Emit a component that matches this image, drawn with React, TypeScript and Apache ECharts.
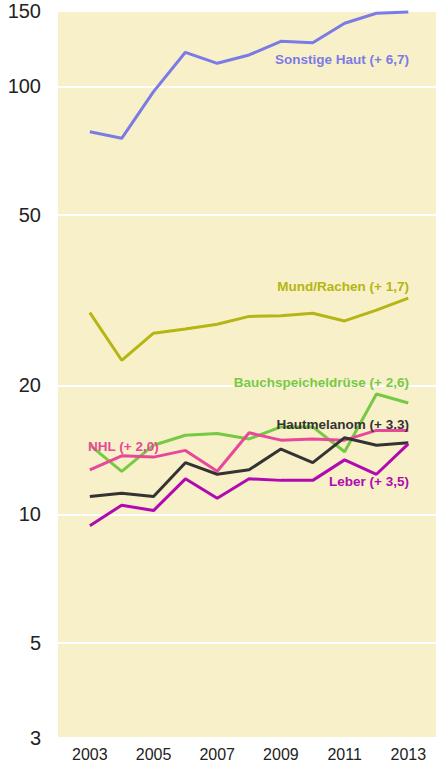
import React, { useEffect, useRef } from "react";
import * as echarts from "echarts";

const years = [2003, 2004, 2005, 2006, 2007, 2008, 2009, 2010, 2011, 2012, 2013];
const xTickYears = [2003, 2005, 2007, 2009, 2011, 2013];
const yTicks = [3, 5, 10, 20, 50, 100, 150];

const sonstigeHaut = [78.3, 75.6, 97.2, 120.1, 113.2, 118.4, 127.4, 126.5, 140.4, 148.2, 149.2];
const mundRachen = [29.6, 22.9, 26.5, 27.1, 27.8, 29.0, 29.1, 29.5, 28.3, 30.0, 32.0];
const bauchspeichel = [14.5, 12.6, 14.5, 15.3, 15.45, 15.0, 16.0, 16.0, 14.0, 19.1, 18.2];
const nhl = [12.7, 13.7, 13.6, 14.1, 12.6, 15.5, 14.9, 15.0, 14.9, 15.7, 15.7];
const hautmelanom = [11.0, 11.2, 11.0, 13.2, 12.4, 12.7, 14.2, 13.2, 15.1, 14.5, 14.7];
const leber = [9.4, 10.5, 10.2, 12.1, 10.9, 12.1, 12.0, 12.0, 13.4, 12.4, 14.6];

const seriesList = [
  { name: "Sonstige Haut", values: sonstigeHaut, color: "#7b7be6" },
  { name: "Mund/Rachen", values: mundRachen, color: "#b5b514" },
  { name: "Bauchspeicheldrüse", values: bauchspeichel, color: "#77c944" },
  { name: "NHL", values: nhl, color: "#e8489a" },
  { name: "Hautmelanom", values: hautmelanom, color: "#333333" },
  { name: "Leber", values: leber, color: "#b00ab0" },
];

const annotations = [
  { text: "Sonstige Haut (+ 6,7)", color: "#7b7be6", x: 409, y: 59, align: "right" },
  { text: "Mund/Rachen (+ 1,7)", color: "#b5b514", x: 409, y: 286, align: "right" },
  { text: "Bauchspeicheldrüse (+ 2,6)", color: "#77c944", x: 409, y: 382, align: "right" },
  { text: "Hautmelanom (+ 3.3)", color: "#333333", x: 409, y: 424, align: "right" },
  { text: "Leber (+ 3,5)", color: "#b00ab0", x: 409, y: 481, align: "right" },
  { text: "NHL (+ 2,0)", color: "#e8489a", x: 88, y: 446, align: "left" },
];

const FONT = "'Liberation Sans', Arial, Helvetica, sans-serif";

export default function App() {
  const ref = useRef<HTMLDivElement>(null);
  useEffect(() => {
    if (!ref.current) return;
    const chart = echarts.init(ref.current, undefined, { renderer: "svg" });
    const log = (v: number) => Math.log10(v);
    chart.setOption({
      animation: false,
      backgroundColor: "#ffffff",
      textStyle: { fontFamily: FONT },
      grid: {
        left: 58,
        right: 0,
        top: 11,
        bottom: 26,
        show: true,
        backgroundColor: "#f8f0c8",
        borderWidth: 0,
        containLabel: false,
      },
      xAxis: {
        type: "value",
        min: 2002,
        max: 2013.87,
        axisLine: { show: false },
        axisTick: { show: false, customValues: xTickYears },
        splitLine: { show: false },
        axisLabel: {
          customValues: xTickYears,
          fontSize: 16,
          color: "#222",
          margin: 8,
          fontFamily: FONT,
          formatter: (v: number) => String(v),
        },
      },
      yAxis: {
        type: "value",
        min: log(3),
        max: log(150),
        axisLine: { show: false },
        axisTick: { show: false, customValues: yTicks.map(log) },
        splitLine: { show: true, lineStyle: { color: "#ffffff", width: 2 } },
        axisLabel: {
          customValues: yTicks.map(log),
          fontSize: 20,
          color: "#222",
          margin: 17,
          fontFamily: FONT,
          formatter: (v: number) => String(Math.round(Math.pow(10, v))),
        },
      },
      series: seriesList.map((s) => ({
        type: "line",
        name: s.name,
        data: years.map((y, i) => [y, log(s.values[i])]),
        symbol: "none",
        lineStyle: { color: s.color, width: 3 },
        itemStyle: { color: s.color },
      })),
      graphic: annotations.map((a) => ({
        type: "text",
        x: a.x,
        y: a.y,
        z: 100,
        style: {
          text: a.text,
          fill: a.color,
          font: `bold 13.5px ${FONT}`,
          textAlign: a.align,
          textVerticalAlign: "middle",
        },
      })),
    });
    return () => chart.dispose();
  }, []);
  return (
    <div
      ref={ref}
      style={{ position: "absolute", left: 0, top: 0, width: 436, height: 764 }}
    />
  );
}
